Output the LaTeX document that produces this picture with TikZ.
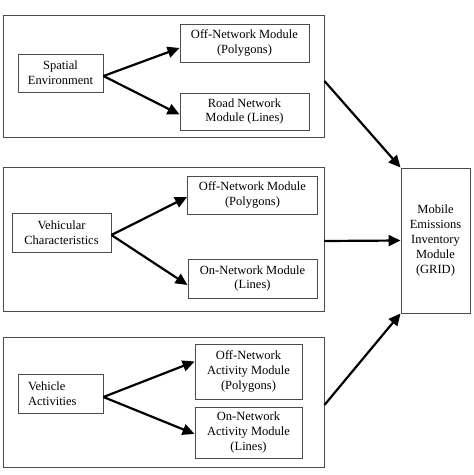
\documentclass[tikz,border=0pt]{standalone}
\usepackage{fontspec}
\setmainfont{Liberation Serif}
\usetikzlibrary{arrows.meta}
\begin{document}
\begin{tikzpicture}[x=1pt,y=-1pt,
  box/.style={draw=black!70,line width=0.9pt,inner sep=0pt,align=center,
    font=\fontsize{12.5}{14.8}\selectfont},
  grp/.style={draw=black!70,line width=0.9pt,inner sep=0pt},
  arr/.style={line width=2.2pt,-{Triangle[length=12pt,width=11pt]}}]
\useasboundingbox (0,0) rectangle (474,475);
% groups
\node[grp,minimum width=321pt,minimum height=122pt] (g1) at (163.5,76) {};
\node[grp,minimum width=321pt,minimum height=144pt] (g2) at (163.5,239) {};
\node[grp,minimum width=321pt,minimum height=130pt] (g3) at (163.5,402) {};
% top group
\node[box,minimum width=85pt,minimum height=38pt] (sp) at (60.5,73) {Spatial\\Environment};
\node[box,minimum width=129pt,minimum height=38pt] (off1) at (244.5,43) {Off-Network Module\\(Polygons)};
\node[box,minimum width=129pt,minimum height=37pt] (road) at (244.5,111.5) {Road Network\\Module (Lines)};
% middle group
\node[box,minimum width=99pt,minimum height=39pt] (veh) at (61.5,232.5) {Vehicular\\Characteristics};
\node[box,minimum width=130pt,minimum height=38pt] (off2) at (252.5,195) {Off-Network Module\\(Polygons)};
\node[box,minimum width=129pt,minimum height=39pt] (on2) at (252.5,278.5) {On-Network Module\\(Lines)};
% bottom group
\node[box,minimum width=85pt,minimum height=39pt,align=left,text width=65pt] (act) at (60.5,393.5) {Vehicle\\Activities};
\node[box,minimum width=107pt,minimum height=55pt] (off3) at (248.5,371.5) {Off-Network\\Activity Module\\(Polygons)};
\node[box,minimum width=107pt,minimum height=51pt] (on3) at (248.5,432.5) {On-Network\\Activity Module\\(Lines)};
% grid
\node[box,minimum width=69pt,minimum height=145pt] (grid) at (435.5,240.5) {Mobile\\Emissions\\Inventory\\Module\\(GRID)};
% arrows
\draw[arr] ([yshift=-3pt]sp.east) -- ([yshift=-5pt]off1.west);
\draw[arr] ([yshift=-3pt]sp.east) -- ([yshift=-3pt]road.west);
\draw[arr] ([yshift=-2.5pt]veh.east) -- ([yshift=-2pt]off2.west);
\draw[arr] ([yshift=-2.5pt]veh.east) -- ([yshift=-6.5pt]on2.west);
\draw[arr] ([yshift=-3.5pt]act.east) -- ([yshift=10pt]off3.west);
\draw[arr] ([yshift=-3.5pt]act.east) -- ([yshift=-1.5pt]on3.west);
\draw[arr] ([yshift=-5pt]g1.east) -- (grid.north west);
\draw[arr] ([yshift=-2pt]g2.east) -- (grid.west);
\draw[arr] ([yshift=-3pt]g3.east) -- (grid.south west);
\end{tikzpicture}
\end{document}
